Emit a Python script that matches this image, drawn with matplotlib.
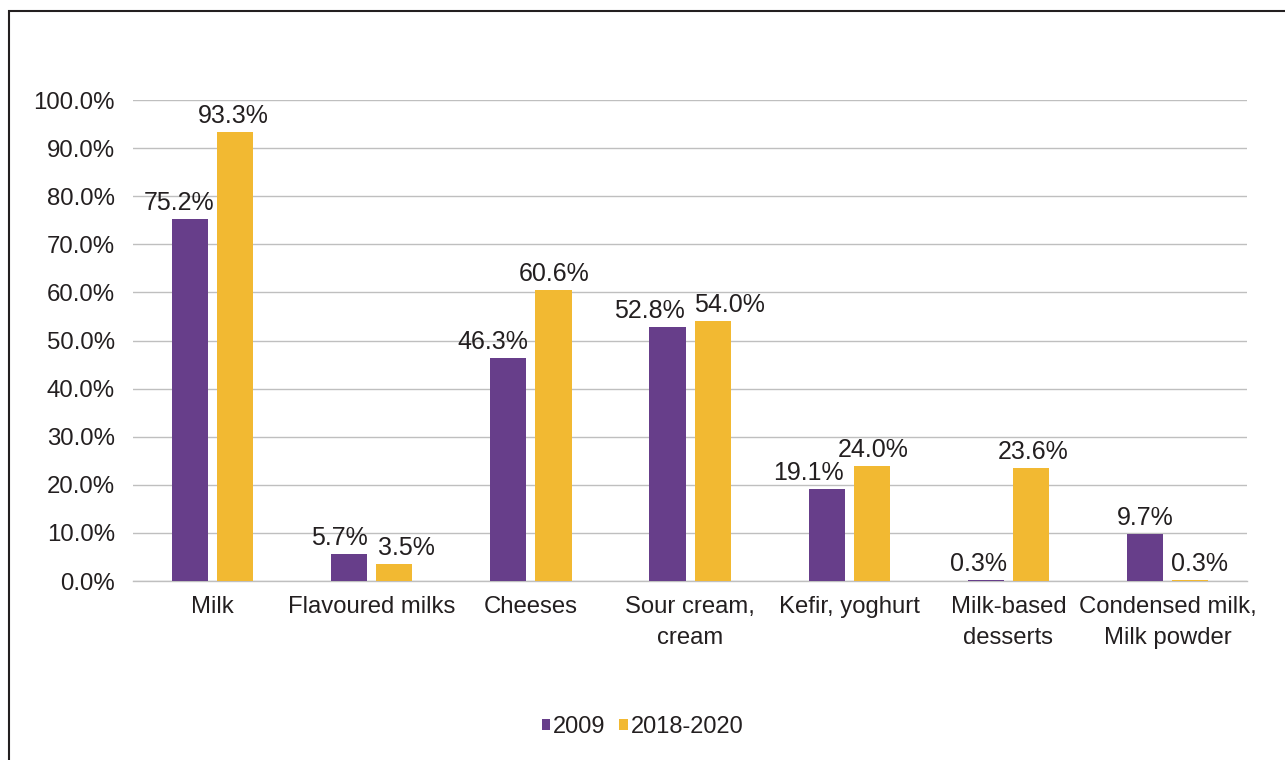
import matplotlib
matplotlib.use("Agg")
import matplotlib.pyplot as plt
import numpy as np
from matplotlib.patches import Rectangle
from matplotlib.ticker import FuncFormatter, MultipleLocator

plt.rcParams['font.family'] = ['Liberation Sans', 'DejaVu Sans']

categories = ["Milk", "Flavoured milks", "Cheeses", "Sour cream,\ncream",
              "Kefir, yoghurt", "Milk-based\ndesserts", "Condensed milk,\nMilk powder"]
series_names = ["2009", "2018-2020"]
values_2009 = [75.2, 5.7, 46.3, 52.8, 19.1, 0.3, 9.7]
values_2018 = [93.3, 3.5, 60.6, 54.0, 24.0, 23.6, 0.3]
colors = ["#673E8A", "#F2B932"]

# horizontal nudges (pixels) for value labels so neighbours do not collide
nudge_2009 = [-11, -10, -15, -18, -18, -7, 0]
nudge_2018 = [-2, 12, 1, 17, 1, 2, 9]

fig = plt.figure(figsize=(12.85, 7.6), dpi=100)
ax = fig.add_axes([0.1035, 0.2355, 0.867, 0.6329])

x = np.arange(len(categories))
width = 0.227
offset = 0.142
text_color = "#231F20"

for vals, nudges, name, col, sign in zip([values_2009, values_2018], [nudge_2009, nudge_2018],
                                         series_names, colors, [-1, 1]):
    bars = ax.bar(x + sign * offset, vals, width, color=col, label=name, zorder=3)
    for b, v, dx in zip(bars, vals, nudges):
        ax.annotate(f"{v:.1f}%", (b.get_x() + b.get_width() / 2, v),
                    xytext=(dx, 9), textcoords="offset pixels",
                    ha="center", va="baseline", fontsize=18, color=text_color)

ax.set_xlim(-0.5, len(categories) - 0.5)
ax.set_ylim(0, 100)
ax.yaxis.set_major_locator(MultipleLocator(10))
ax.yaxis.set_major_formatter(FuncFormatter(lambda v, p: f"{v:.1f}%"))
ax.grid(axis="y", color="#BFBFBF", linewidth=1, zorder=0)
ax.set_axisbelow(True)
for s in ["top", "right", "left"]:
    ax.spines[s].set_visible(False)
ax.spines["bottom"].set_color("#BFBFBF")
ax.spines["bottom"].set_linewidth(1)
ax.set_xticks(x)
ax.set_xticklabels(categories, fontsize=17.2, color=text_color, linespacing=1.5)
ax.tick_params(axis="x", length=0, pad=11)
ax.tick_params(axis="y", length=0, pad=13, labelsize=17.3, labelcolor=text_color)

fig.legend(loc="center", bbox_to_anchor=(0.5, 1 - 727 / 760), ncol=2, frameon=False,
           fontsize=17, handlelength=0.35, handleheight=0.35, handletextpad=0.12,
           columnspacing=0.6, labelcolor=text_color)

# outer frame
fig.add_artist(Rectangle((9 / 1285, -0.1), 1.2, 1.1 - 11 / 760, transform=fig.transFigure,
                         fill=False, edgecolor="#231F20", linewidth=1.5, clip_on=False))

fig.savefig("out.png", dpi=100)
